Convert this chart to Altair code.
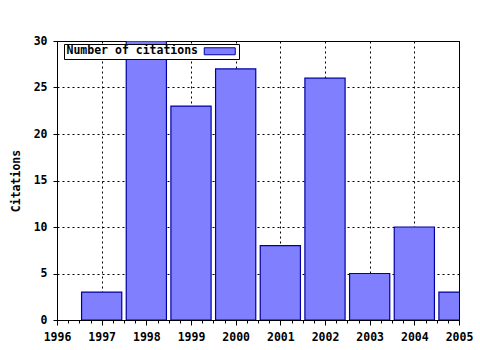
import altair as alt
import pandas as pd

years = [1997, 1998, 1999, 2000, 2001, 2002, 2003, 2004, 2005]
citations = [3, 30, 23, 27, 8, 26, 5, 10, 3]
series_name = "Number of citations"
major_x = [1996, 1997, 1998, 1999, 2000, 2001, 2002, 2003, 2004, 2005]
minor_steps = [0.0, 0.25, 0.5, 0.75]
y_ticks = [0, 5, 10, 15, 20, 25, 30]

x_tick_values = [m + s for m in major_x[:-1] for s in minor_steps] + [major_x[-1]]

df = pd.DataFrame({"year": years, "citations": citations,
                   "series": [series_name] * len(years)})

FONT = "DejaVu Sans Mono"
is_major = "abs(datum.value - round(datum.value)) < 0.001"

bars = alt.Chart(df).transform_calculate(
    x0="datum.year - 0.45", x1="datum.year + 0.45"
).mark_bar(clip=True, stroke="#0000a0", strokeWidth=1.2).encode(
    x=alt.X("x0:Q",
            scale=alt.Scale(domain=[1996, 2005], nice=False, zero=False),
            axis=alt.Axis(
                values=x_tick_values,
                labelExpr=f"{is_major} ? format(datum.value, 'd') : ''",
                labelOverlap=False, labelFlush=False,
                tickSize={"condition": {"test": is_major, "value": 5}, "value": 3},
                gridOpacity={"condition": {"test": is_major, "value": 1}, "value": 0},
                labelPadding=6,
                title=None)),
    x2="x1:Q",
    y=alt.Y("citations:Q",
            scale=alt.Scale(domain=[0, 30], nice=False),
            axis=alt.Axis(values=y_ticks, tickSize=4, labelPadding=6,
                          title="Citations", titleX=-38, titleY=139.5,
                          titleAngle=270, titleAlign="center",
                          titleBaseline="alphabetic")),
    y2=alt.datum(0),
    color=alt.Color("series:N",
                    scale=alt.Scale(range=["#8080ff"]),
                    legend=alt.Legend(
                        title=None, orient="none", legendX=7, legendY=3,
                        symbolType="M-4.43,-1H4.43V1H-4.43Z", symbolSize=49,
                        symbolStrokeColor="#0000a0", symbolStrokeWidth=1,
                        symbolOffset=148.5, labelOffset={"expr": "-159"},
                        labelFont=FONT, labelFontWeight="bold", labelFontSize=11.5,
                        labelColor="black", padding=1.5,
                        strokeColor="black", fillColor="white")),
)

chart = bars.properties(
    width=402, height=279,
    background="white",
    autosize=alt.AutoSizeParams(type="none"),
    padding={"left": 57, "top": 41, "right": 21, "bottom": 30},
).configure_view(stroke="black", strokeWidth=1).configure_axis(
    labelFont=FONT, labelFontWeight="bold", labelFontSize=11.5, labelColor="black",
    titleFont=FONT, titleFontWeight="bold", titleFontSize=11.5, titleColor="black",
    tickColor="black", domainColor="black", gridColor="black", gridDash=[2, 3],
    gridOpacity=1, gridWidth=1, zindex=0,
)

chart.save("out.html", embed_options={"renderer": "svg", "actions": False})
